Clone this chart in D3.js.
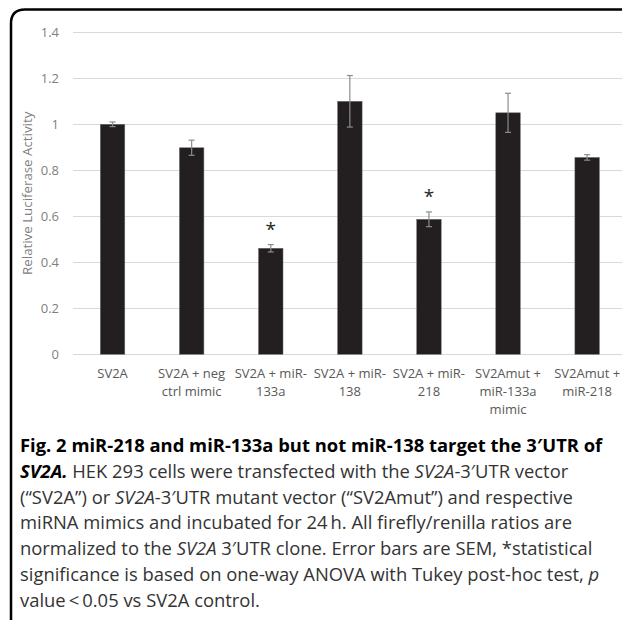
<!DOCTYPE html>
<html>
<head>
<meta charset="utf-8">
<script src="https://cdn.jsdelivr.net/npm/d3@7"></script>
<style>
  body { margin: 0; background: #fff; }
  svg { display: block; }
</style>
</head>
<body>
<svg width="622" height="626"></svg>
<script>
// datos del grafico
const categorias = [
  ["SV2A"],
  ["SV2A + neg", "ctrl mimic"],
  ["SV2A + miR-", "133a"],
  ["SV2A + miR-", "138"],
  ["SV2A + miR-", "218"],
  ["SV2Amut +", "miR-133a", "mimic"],
  ["SV2Amut +", "miR-218"]
];
const valores = [1.0, 0.898, 0.461, 1.10, 0.587, 1.05, 0.856];
const errores = [0.01, 0.033, 0.016, 0.112, 0.032, 0.085, 0.012];
const significativo = [false, false, true, false, true, false, false];
const ticksY = [0, 0.2, 0.4, 0.6, 0.8, 1, 1.2, 1.4];
const tituloY = "Relative Luciferase Activity";

// texto del pie de figura, por lineas y tramos (b = negrita, i = cursiva)
const leyenda = [
  [["Fig. 2 miR-218 and miR-133a but not miR-138 target the 3\u2032UTR of", "b"]],
  [["SV2A.", "bi"], [" HEK 293 cells were transfected with the ", ""], ["SV2A", "i"], ["-3\u2032UTR vector", ""]],
  [["(\u201cSV2A\u201d) or ", ""], ["SV2A", "i"], ["-3\u2032UTR mutant vector (\u201cSV2Amut\u201d) and respective", ""]],
  [["miRNA mimics and incubated for 24\u2009h. All firefly/renilla ratios are", ""]],
  [["normalized to the ", ""], ["SV2A", "i"], [" 3\u2032UTR clone. Error bars are SEM, *statistical", ""]],
  [["significance is based on one-way ANOVA with Tukey post-hoc test, ", ""], ["p", "i"]],
  [["value\u2009<\u20090.05 vs SV2A control.", ""]]
];

const svg = d3.select("svg");
const fuente = "'Open Sans', 'Noto Sans', sans-serif";

// marco con esquina redondeada arriba a la izquierda
const r = 14;
svg.append("path")
    .attr("d", `M11,620 L11,${9.5 + r} Q11,9.5 ${11 + r},9.5 L625,9.5`)
    .attr("fill", "none")
    .attr("stroke", "#000")
    .attr("stroke-width", 2.5);

const x = d3.scaleBand()
    .domain(d3.range(categorias.length))
    .range([73, 73 + 79.1 * categorias.length])
    .paddingInner(0.69)
    .paddingOuter(0.345);

const y = d3.scaleLinear().domain([0, 1.4]).range([354.3, 32.3]);

// lineas de la cuadricula
svg.append("g").selectAll("line")
    .data(ticksY)
    .join("line")
    .attr("x1", 73).attr("x2", 622)
    .attr("y1", d => Math.round(y(d)) + 0.5)
    .attr("y2", d => Math.round(y(d)) + 0.5)
    .attr("stroke", "#d9d9d9")
    .attr("stroke-width", 1);

// etiquetas del eje Y
svg.append("g").selectAll("text")
    .data(ticksY)
    .join("text")
    .attr("x", 59)
    .attr("y", d => y(d))
    .attr("dy", "0.35em")
    .attr("text-anchor", "end")
    .attr("font-family", fuente)
    .attr("font-size", 13)
    .attr("fill", "#7f7f7f")
    .text(d => d3.format("~g")(d));

svg.append("text")
    .attr("transform", `translate(27,${(y(0) + y(1.4)) / 2}) rotate(-90)`)
    .attr("dy", "0.35em")
    .attr("text-anchor", "middle")
    .attr("font-family", fuente)
    .attr("font-size", 13.3)
    .attr("fill", "#7f7f7f")
    .text(tituloY);

// barras
svg.append("g").selectAll("rect")
    .data(valores)
    .join("rect")
    .attr("x", (d, i) => x(i))
    .attr("y", d => y(d))
    .attr("width", x.bandwidth())
    .attr("height", d => y(0) - y(d))
    .attr("fill", "#231f20")
    .attr("stroke", "#6f6f6f")
    .attr("stroke-width", 0.5);

// barras de error
const cap = 3;
const gErr = svg.append("g").attr("stroke", "#8c8c8c").attr("stroke-width", 1.2);
valores.forEach((v, i) => {
  const cx = x(i) + x.bandwidth() / 2;
  const y1 = y(v + errores[i]), y2 = y(v - errores[i]);
  gErr.append("line").attr("x1", cx).attr("x2", cx).attr("y1", y1).attr("y2", y2);
  gErr.append("line").attr("x1", cx - cap).attr("x2", cx + cap).attr("y1", y1).attr("y2", y1);
  gErr.append("line").attr("x1", cx - cap).attr("x2", cx + cap).attr("y1", y2).attr("y2", y2);
});

// asteriscos de significancia
svg.append("g").selectAll("text")
    .data(valores.map((v, i) => ({ v, i })).filter(d => significativo[d.i]))
    .join("text")
    .attr("x", d => x(d.i) + x.bandwidth() / 2)
    .attr("y", d => y(d.v + errores[d.i]) - 9)
    .attr("text-anchor", "middle")
    .attr("font-family", fuente)
    .attr("font-size", 19)
    .attr("fill", "#231f20")
    .text("*");

// etiquetas del eje X
const gX = svg.append("g")
    .attr("font-family", fuente)
    .attr("font-size", 13)
    .attr("fill", "#595959")
    .attr("text-anchor", "middle");
categorias.forEach((lineas, i) => {
  const t = gX.append("text").attr("x", x(i) + x.bandwidth() / 2).attr("y", 378);
  lineas.forEach((l, j) => {
    t.append("tspan").attr("x", x(i) + x.bandwidth() / 2).attr("dy", j === 0 ? 0 : 17.8).text(l);
  });
});

// pie de figura
const gCap = svg.append("g").attr("font-family", fuente).attr("font-size", 18.4);
leyenda.forEach((tramos, j) => {
  const t = gCap.append("text").attr("x", 20).attr("y", 452 + j * 25.8).attr("fill", "#231f20");
  tramos.forEach(([txt, est]) => {
    t.append("tspan")
        .attr("font-weight", est.includes("b") ? "bold" : null)
        .attr("font-style", est.includes("i") ? "italic" : null)
        .attr("fill", est.includes("b") ? "#000" : "#333")
        .text(txt);
  });
});
</script>
</body>
</html>
